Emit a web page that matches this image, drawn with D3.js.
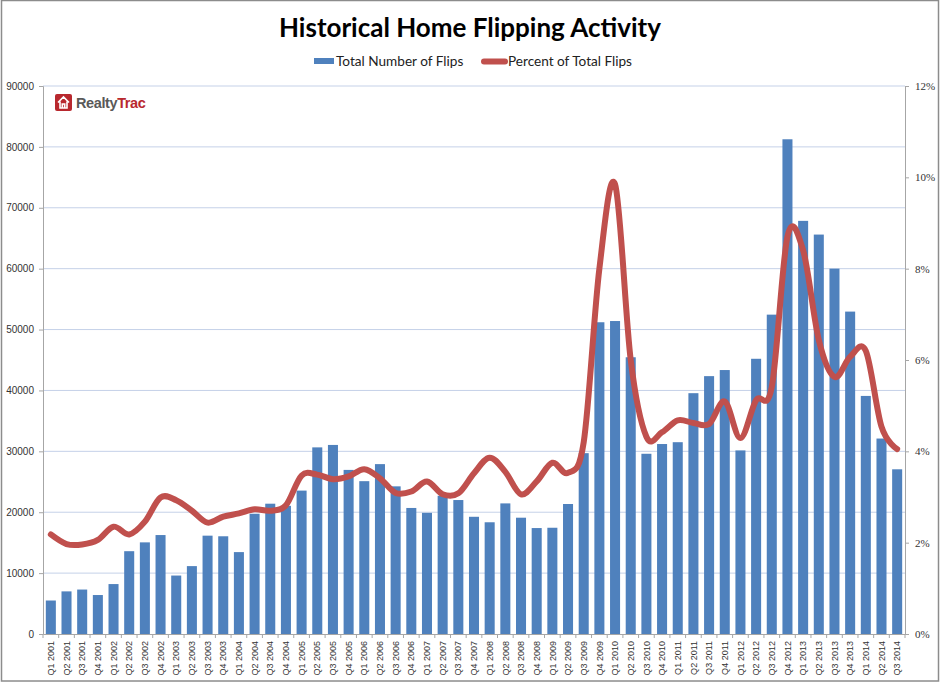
<!DOCTYPE html>
<html>
<head>
<meta charset="utf-8">
<script src="https://cdn.jsdelivr.net/npm/d3@7"></script>
<style>
  body { margin: 0; background: #fff; }
  svg { display: block; }
</style>
</head>
<body>
<div id="chartDiv"></div>
<script>
const quarters = [
    'Q1 2001', 'Q2 2001', 'Q3 2001', 'Q4 2001',
    'Q1 2002', 'Q2 2002', 'Q3 2002', 'Q4 2002',
    'Q1 2003', 'Q2 2003', 'Q3 2003', 'Q4 2003',
    'Q1 2004', 'Q2 2004', 'Q3 2004', 'Q4 2004',
    'Q1 2005', 'Q2 2005', 'Q3 2005', 'Q4 2005',
    'Q1 2006', 'Q2 2006', 'Q3 2006', 'Q4 2006',
    'Q1 2007', 'Q2 2007', 'Q3 2007', 'Q4 2007',
    'Q1 2008', 'Q2 2008', 'Q3 2008', 'Q4 2008',
    'Q1 2009', 'Q2 2009', 'Q3 2009', 'Q4 2009',
    'Q1 2010', 'Q2 2010', 'Q3 2010', 'Q4 2010',
    'Q1 2011', 'Q2 2011', 'Q3 2011', 'Q4 2011',
    'Q1 2012', 'Q2 2012', 'Q3 2012', 'Q4 2012',
    'Q1 2013', 'Q2 2013', 'Q3 2013', 'Q4 2013',
    'Q1 2014', 'Q2 2014', 'Q3 2014'
];

const totalFlips = [
    5500, 7000, 7300, 6400,
    8200, 13600, 15050, 16250,
    9600, 11150, 16150, 16050,
    13450, 19750, 21400, 21050,
    23550, 30650, 31050, 26950,
    25100, 27900, 24250, 20700,
    19900, 22700, 22000, 19250,
    18350, 21450, 19100, 17400,
    17450, 21350, 29700, 51200,
    51400, 45450, 29600, 31200,
    31500, 39550, 42350, 43350,
    30150, 45200, 52450, 81250,
    67850, 65600, 60000, 52950,
    39100, 32100, 27050
];

const percentFlips = [
    2.18, 1.97, 1.96, 2.06,
    2.35, 2.18, 2.46, 2.99,
    2.93, 2.70, 2.44, 2.57,
    2.64, 2.73, 2.70, 2.82,
    3.47, 3.49, 3.39, 3.45,
    3.61, 3.41, 3.09, 3.12,
    3.34, 3.06, 3.08, 3.52,
    3.86, 3.55, 3.06, 3.34,
    3.75, 3.53, 4.20, 8.00,
    9.85, 6.00, 4.32, 4.42,
    4.68, 4.62, 4.60, 5.09,
    4.29, 5.12, 5.41, 8.70,
    8.40, 6.44, 5.63, 6.07,
    6.20, 4.54, 4.05
];

const leftTicks = [0, 10000, 20000, 30000, 40000, 50000, 60000, 70000, 80000, 90000];
const rightTicks = [0, 2, 4, 6, 8, 10, 12];

const W = 940, H = 683;
const m = { top: 86, right: 35, bottom: 49, left: 43 };
const innerW = W - m.left - m.right;
const innerH = H - m.top - m.bottom;

const data = quarters.map((q, i) => ({ q: q, flips: totalFlips[i], pct: percentFlips[i] }));

const svg = d3.select('#chartDiv').append('svg')
    .attr('width', W)
    .attr('height', H);

// outer frame
svg.append('rect')
    .attr('x', 1.5).attr('y', 0.5)
    .attr('width', W - 3).attr('height', H - 2.5)
    .attr('fill', '#fff')
    .attr('stroke', '#8c8c8c')
    .attr('stroke-width', 1.5);

svg.append('text')
    .attr('x', 470).attr('y', 37)
    .attr('text-anchor', 'middle')
    .attr('font-family', 'Lato, "Open Sans", sans-serif')
    .attr('font-weight', 'bold')
    .attr('font-size', 26)
    .attr('fill', '#000')
    .text('Historical Home Flipping Activity');

// legend
const legend = svg.append('g').attr('font-family', 'Lato, "Open Sans", sans-serif').attr('font-size', 13.6).attr('fill', '#222');
legend.append('rect').attr('x', 314).attr('y', 58).attr('width', 20).attr('height', 6).attr('fill', '#4f81bd');
legend.append('text').attr('x', 336).attr('y', 66).text('Total Number of Flips');
legend.append('line').attr('x1', 484).attr('x2', 505).attr('y1', 61.5).attr('y2', 61.5)
    .attr('stroke', '#c0504d').attr('stroke-width', 6).attr('stroke-linecap', 'round');
legend.append('text').attr('x', 508).attr('y', 66).text('Percent of Total Flips');

const g = svg.append('g').attr('transform', `translate(${m.left},${m.top})`);

const x = d3.scaleBand()
    .domain(quarters)
    .range([0, innerW])
    .paddingInner(0.36)
    .paddingOuter(0.18);

const y = d3.scaleLinear().domain([0, 90000]).range([innerH, 0]);
const y2 = d3.scaleLinear().domain([0, 12]).range([innerH, 0]);

// gridlines
g.selectAll('.grid')
    .data(leftTicks.slice(1))
    .enter().append('line')
    .attr('x1', 0).attr('x2', innerW)
    .attr('y1', d => y(d)).attr('y2', d => y(d))
    .attr('stroke', '#c5d1e8')
    .attr('stroke-width', 1);

// bars
g.selectAll('.bar')
    .data(data)
    .enter().append('rect')
    .attr('x', d => x(d.q))
    .attr('y', d => y(d.flips))
    .attr('width', x.bandwidth())
    .attr('height', d => innerH - y(d.flips))
    .attr('fill', '#4f81bd');

// line
const line = d3.line()
    .x(d => x(d.q) + x.bandwidth() / 2)
    .y(d => y2(d.pct))
    .curve(d3.curveCardinal.tension(0));

g.append('path')
    .datum(data)
    .attr('fill', 'none')
    .attr('stroke', '#c0504d')
    .attr('stroke-width', 6)
    .attr('stroke-linejoin', 'round')
    .attr('stroke-linecap', 'round')
    .attr('d', line);

// left axis
const yAxis = g.append('g')
    .call(d3.axisLeft(y).tickValues(leftTicks).tickSize(4).tickPadding(5).tickFormat(d3.format('d')));
yAxis.selectAll('text').attr('font-family', '"Liberation Sans", Arial, sans-serif').attr('font-size', 10).attr('fill', '#333');
yAxis.selectAll('line, path').attr('stroke', '#a6a6a6');

// right axis
const y2Axis = g.append('g')
    .attr('transform', `translate(${innerW},0)`)
    .call(d3.axisRight(y2).tickValues(rightTicks).tickSize(4).tickPadding(6).tickFormat(d => d + '%'));
y2Axis.selectAll('text').attr('font-family', '"Liberation Serif", "Times New Roman", serif').attr('font-size', 11).attr('fill', '#333');
y2Axis.selectAll('line, path').attr('stroke', '#a6a6a6');

// bottom axis
const step = x.step();
const xAxis = g.append('g')
    .attr('transform', `translate(0,${innerH})`)
    .call(d3.axisBottom(x).tickSize(0).tickPadding(0));
xAxis.select('.domain').attr('stroke', '#a6a6a6');
xAxis.selectAll('.tick text')
    .attr('font-family', '"Liberation Sans", Arial, sans-serif')
    .attr('font-size', 9)
    .attr('fill', '#333')
    .attr('text-anchor', 'end')
    .attr('dy', '0.35em')
    .attr('transform', 'translate(0,7) rotate(-90)');

xAxis.selectAll('.cat-tick')
    .data(d3.range(quarters.length + 1))
    .enter().append('line')
    .attr('x1', i => i === quarters.length ? innerW : x(quarters[i]) - step * 0.18)
    .attr('x2', i => i === quarters.length ? innerW : x(quarters[i]) - step * 0.18)
    .attr('y1', 0).attr('y2', 4)
    .attr('stroke', '#a6a6a6');

// RealtyTrac logo
const logo = svg.append('g').attr('transform', 'translate(55,94)');
logo.append('rect').attr('width', 17).attr('height', 17).attr('rx', 2).attr('fill', '#b8282e');
logo.append('path')
    .attr('d', 'M3,8.5 L8.5,3 L14,8.5 M5,7.5 L5,14 L12,14 L12,7.5 M7.3,14 L7.3,10 L9.7,10 L9.7,14')
    .attr('fill', 'none').attr('stroke', '#fff').attr('stroke-width', 1.6);
const logoText = logo.append('text')
    .attr('x', 21).attr('y', 14)
    .attr('font-family', '"Liberation Sans", Arial, sans-serif')
    .attr('font-weight', 'bold')
    .attr('font-size', 14.5)
    .attr('letter-spacing', -0.4);
logoText.append('tspan').attr('fill', '#595959').text('Realty');
logoText.append('tspan').attr('fill', '#b8282e').text('Trac');
</script>
</body>
</html>
